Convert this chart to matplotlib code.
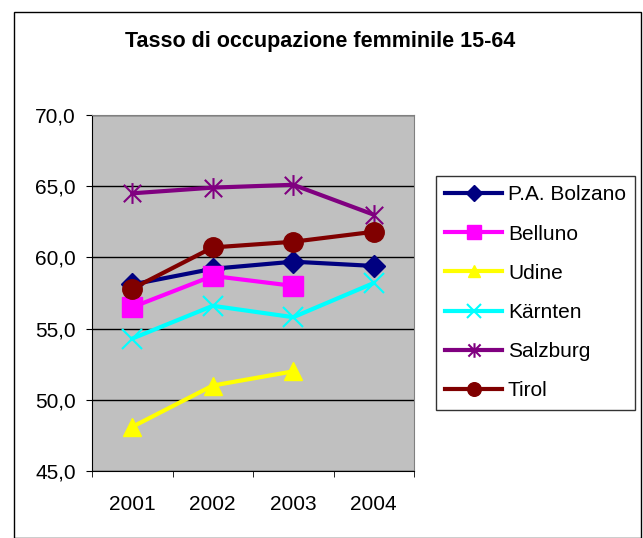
import matplotlib
matplotlib.use('Agg')
import matplotlib.pyplot as plt
from matplotlib.patches import Rectangle
from matplotlib.path import Path
from matplotlib.ticker import FuncFormatter
import numpy as np

plt.rcParams['font.family'] = ['Liberation Sans', 'DejaVu Sans']

## Data
years = ['2001', '2002', '2003', '2004']
bolzano = [58.1, 59.2, 59.7, 59.4]
belluno = [56.5, 58.7, 58.0, np.nan]
udine = [48.1, 51.0, 52.0, np.nan]
kaernten = [54.3, 56.6, 55.8, 58.2]
salzburg = [64.5, 64.9, 65.1, 63.0]
tirol = [57.8, 60.7, 61.1, 61.8]

# Excel style star: an X plus a vertical bar
star = Path([(-1, -1), (1, 1), (-1, 1), (1, -1), (0, -1.2), (0, 1.2)],
            [Path.MOVETO, Path.LINETO, Path.MOVETO, Path.LINETO, Path.MOVETO, Path.LINETO])

series = [
    ('P.A. Bolzano', bolzano, '#000080', 'D', 11),
    ('Belluno', belluno, '#FF00FF', 's', 14),
    ('Udine', udine, '#FFFF00', '^', 13),
    ('Kärnten', kaernten, '#00FFFF', 'x', 14),
    ('Salzburg', salzburg, '#800080', star, 15),
    ('Tirol', tirol, '#800000', 'o', 14),
]

fig = plt.figure(figsize=(6.43, 5.38), dpi=100)
fig.patches.append(Rectangle((14/643, 0), 627/643, 1 - 12/538, transform=fig.transFigure,
                             fill=False, edgecolor='black', linewidth=1))

ax = fig.add_axes([92/643, 1 - 471/538, 322/643, 356/538])
ax.set_facecolor('#C0C0C0')
x = np.arange(len(years))
for name, vals, col, mk, ms in series:
    mew = 1.5 if mk is star or mk == 'x' else 1
    ax.plot(x, vals, color=col, linewidth=3, marker=mk, markersize=ms,
            markeredgecolor=col, markerfacecolor=col, markeredgewidth=mew, label=name)

ax.set_xlim(-0.5, 3.5)
ax.set_ylim(45, 70)
ax.set_yticks(np.arange(45, 71, 5))
ax.yaxis.set_major_formatter(FuncFormatter(lambda v, p: ('%.1f' % v).replace('.', ',')))
ax.set_xticks(x)
ax.set_xticklabels(years)
ax.set_xticks(np.arange(-0.5, 4, 1), minor=True)
ax.tick_params(axis='x', which='major', length=0, pad=17, labelsize=15)
ax.tick_params(axis='x', which='minor', length=4.5, direction='out')
ax.tick_params(axis='y', length=4.5, direction='out', labelsize=15, pad=7)
ax.grid(axis='y', color='black', linewidth=1)
ax.set_axisbelow(True)
for s in ['top', 'right']:
    ax.spines[s].set_color('#808080')
ax.spines['left'].set_color('black')
ax.spines['bottom'].set_color('black')

fig.text(320/643, 1 - 42/538, 'Tasso di occupazione femminile 15-64', ha='center', va='center',
         fontsize=15.5, fontweight='bold')

leg = fig.legend(loc='upper left', bbox_to_anchor=(436/643, 1 - 176/538),
                 fontsize=15, frameon=True, fancybox=False, edgecolor='black',
                 labelspacing=0.97, handlelength=2.7, handletextpad=0.3, borderaxespad=0,
                 borderpad=0.45)
leg.get_frame().set_linewidth(1)
for h in leg.legend_handles:
    h.set_markersize(h.get_markersize() * 0.7)

fig.savefig('out.png', dpi=100)
